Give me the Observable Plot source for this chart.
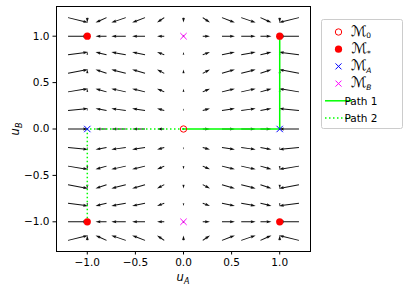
<!DOCTYPE html>
<html>
<head>
<meta charset="utf-8">
<script src="https://cdn.jsdelivr.net/npm/d3@7"></script>
<script src="https://cdn.jsdelivr.net/npm/@observablehq/plot@0.6"></script>
<style>
  html, body { margin: 0; padding: 0; background: white; }
  #chart svg { display: block; }
</style>
</head>
<body>
<div id="chart"></div>
<script>
// Grid positions of the arrows (u_A columns, u_B rows)
const gridX = [-1.2, -1.0, -0.8, -0.6, -0.4, -0.2, 0.0, 0.2, 0.4, 0.6, 0.8, 1.0, 1.2];
const gridY = [-1.2, -1.0, -0.8, -0.6, -0.4, -0.2, 0.0, 0.2, 0.4, 0.6, 0.8, 1.0, 1.2];
// Horizontal component, read per column (depends on u_A only)
const uByColumn = [0.53, 0.0, -0.29, -0.38, -0.34, -0.19, 0.0, 0.19, 0.34, 0.38, 0.29, 0.0, -0.53];
// Vertical component, read per row (depends on u_B only)
const vByRow = [0.13, 0.0, -0.07, -0.1, -0.085, -0.05, 0.0, 0.05, 0.085, 0.1, 0.07, 0.0, -0.13];

// Special points
const m0 = [{x: 0, y: 0}];
const mStar = [{x: -1, y: 1}, {x: 1, y: 1}, {x: -1, y: -1}, {x: 1, y: -1}];
const mA = [{x: -1, y: 0}, {x: 1, y: 0}];
const mB = [{x: 0, y: 1}, {x: 0, y: -1}];
// Paths
const path1 = [{x: 0, y: 0}, {x: 1, y: 0}, {x: 1, y: 1}];
const path2 = [{x: 0, y: 0}, {x: -1, y: 0}, {x: -1, y: -1}];

const xTicks = [-1.0, -0.5, 0.0, 0.5, 1.0];
const yTicks = [-1.0, -0.5, 0.0, 0.5, 1.0];

const legendItems = [
  {kind: "open", color: "#ff0000", main: "ℳ", sub: "0", subItalic: false},
  {kind: "filled", color: "#ff0000", main: "ℳ", sub: "*", subItalic: false},
  {kind: "times", color: "#0000ff", main: "ℳ", sub: "A", subItalic: true},
  {kind: "times", color: "#ff00ff", main: "ℳ", sub: "B", subItalic: true},
  {kind: "solid", color: "#00ff00", text: "Path 1"},
  {kind: "dotted", color: "#00ff00", text: "Path 2"}
];

// Build quiver table
const arrowScale = 38; // px per vector unit
const quiver = [];
gridY.forEach((y, j) => {
  gridX.forEach((x, i) => {
    const u = uByColumn[i], v = vByRow[j];
    quiver.push({
      x, y,
      len: Math.hypot(u, v) * arrowScale,
      rot: Math.atan2(u, v) * 180 / Math.PI
    });
  });
});

// matplotlib-like filled quiver arrow
const W = 1.0, HL = 5 * W, HAL = 4.5 * W, HW = 1.5 * W;
const mplArrow = {
  draw(ctx, l) {
    if (l < W) {
      const rr = W * 0.8;
      for (let k = 0; k < 6; k++) {
        const a = k * Math.PI / 3;
        const px = rr * Math.cos(a), py = rr * Math.sin(a);
        if (k) ctx.lineTo(px, py); else ctx.moveTo(px, py);
      }
      ctx.closePath();
      return;
    }
    let s = 1, L = l;
    if (l < HL) { s = l / HL; L = HL; }
    const pts = [[-W / 2, 0], [-W / 2, -(L - HAL)], [-HW, -(L - HL)], [0, -L],
                 [HW, -(L - HL)], [W / 2, -(L - HAL)], [W / 2, 0]];
    pts.forEach(([a, b], i) => i ? ctx.lineTo(a * s, b * s) : ctx.moveTo(a * s, b * s));
    ctx.closePath();
  }
};

const font = "DejaVu Sans, sans-serif";
const fs = 10.5;

const plot = Plot.plot({
  width: 416,
  height: 289,
  marginLeft: 56,
  marginRight: 106,
  marginTop: 6,
  marginBottom: 38,
  style: {fontFamily: font, fontSize: fs + "px", color: "black", background: "white"},
  x: {domain: [-1.32, 1.32], label: null},
  y: {domain: [-1.32, 1.32], label: null},
  length: {type: "identity"},
  marks: [
    Plot.vector(quiver, {
      x: "x", y: "y", length: "len", rotate: "rot", anchor: "start",
      shape: mplArrow, fill: "#111", stroke: "none"
    }),
    Plot.line(path2, {x: "x", y: "y", stroke: "#00ff00", strokeWidth: 1.5, strokeDasharray: "1.5,2.5", strokeLinecap: "butt"}),
    Plot.line(path1, {x: "x", y: "y", stroke: "#00ff00", strokeWidth: 1.5}),
    Plot.dot(m0, {x: "x", y: "y", r: 3.2, stroke: "#ff0000", strokeWidth: 1, fill: "none"}),
    Plot.dot(mStar, {x: "x", y: "y", r: 3.6, fill: "#ff0000", stroke: "none"}),
    Plot.dot(mA, {x: "x", y: "y", r: 3.0, symbol: "times", stroke: "#0000ff", strokeWidth: 1}),
    Plot.dot(mB, {x: "x", y: "y", r: 3.0, symbol: "times", stroke: "#ff00ff", strokeWidth: 1}),
    Plot.axisX({ticks: xTicks, tickFormat: d3.format(".1f"), tickSize: 3.5, tickPadding: 3.5, label: null}),
    Plot.axisY({ticks: yTicks, tickFormat: d3.format(".1f"), tickSize: 3.5, tickPadding: 3.5, label: null}),
    Plot.frame({stroke: "black", strokeWidth: 1})
  ]
});

document.getElementById("chart").appendChild(plot);

const svg = d3.select(plot);

// Axis labels with subscripts
const xl = svg.append("text")
  .attr("x", 183).attr("y", 281)
  .attr("text-anchor", "middle")
  .attr("font-family", font).attr("font-size", 11.5).attr("fill", "black");
xl.append("tspan").attr("font-style", "italic").text("u");
xl.append("tspan").attr("font-style", "italic").attr("font-size", 8).attr("dy", 2.5).text("A");

const yl = svg.append("text")
  .attr("transform", "translate(19,129) rotate(-90)")
  .attr("text-anchor", "middle")
  .attr("font-family", font).attr("font-size", 11.5).attr("fill", "black");
yl.append("tspan").attr("font-style", "italic").text("u");
yl.append("tspan").attr("font-style", "italic").attr("font-size", 8).attr("dy", 2.5).text("B");

// Legend
const lg = svg.append("g");
lg.append("rect")
  .attr("x", 321.5).attr("y", 19.5).attr("width", 81).attr("height", 109)
  .attr("rx", 2).attr("fill", "white").attr("fill-opacity", 0.8)
  .attr("stroke", "#cccccc").attr("stroke-width", 1);
legendItems.forEach((d, i) => {
  const cy = 32 + i * 17.2;
  const mx = 338.5;
  if (d.kind === "open") {
    lg.append("circle").attr("cx", mx).attr("cy", cy).attr("r", 3.2)
      .attr("fill", "none").attr("stroke", d.color).attr("stroke-width", 1);
  } else if (d.kind === "filled") {
    lg.append("circle").attr("cx", mx).attr("cy", cy).attr("r", 3.6).attr("fill", d.color);
  } else if (d.kind === "times") {
    const h = 3.0;
    lg.append("path").attr("d", `M${mx - h},${cy - h}L${mx + h},${cy + h}M${mx - h},${cy + h}L${mx + h},${cy - h}`)
      .attr("stroke", d.color).attr("stroke-width", 1).attr("fill", "none");
  } else {
    lg.append("line").attr("x1", 325).attr("x2", 352).attr("y1", cy).attr("y2", cy)
      .attr("stroke", d.color).attr("stroke-width", 1.5)
      .attr("stroke-dasharray", d.kind === "dotted" ? "1.5,2.5" : null);
  }
  const t = lg.append("text").attr("x", 361).attr("y", cy + 3.8)
    .attr("font-family", font).attr("font-size", fs).attr("fill", "black");
  if (d.text) {
    t.text(d.text);
  } else {
    t.append("tspan").attr("font-size", 14.5).text(d.main);
    const s = t.append("tspan").attr("font-size", 7.5).attr("dy", 2.5).text(d.sub);
    if (d.subItalic) s.attr("font-style", "italic");
  }
});
</script>
</body>
</html>
